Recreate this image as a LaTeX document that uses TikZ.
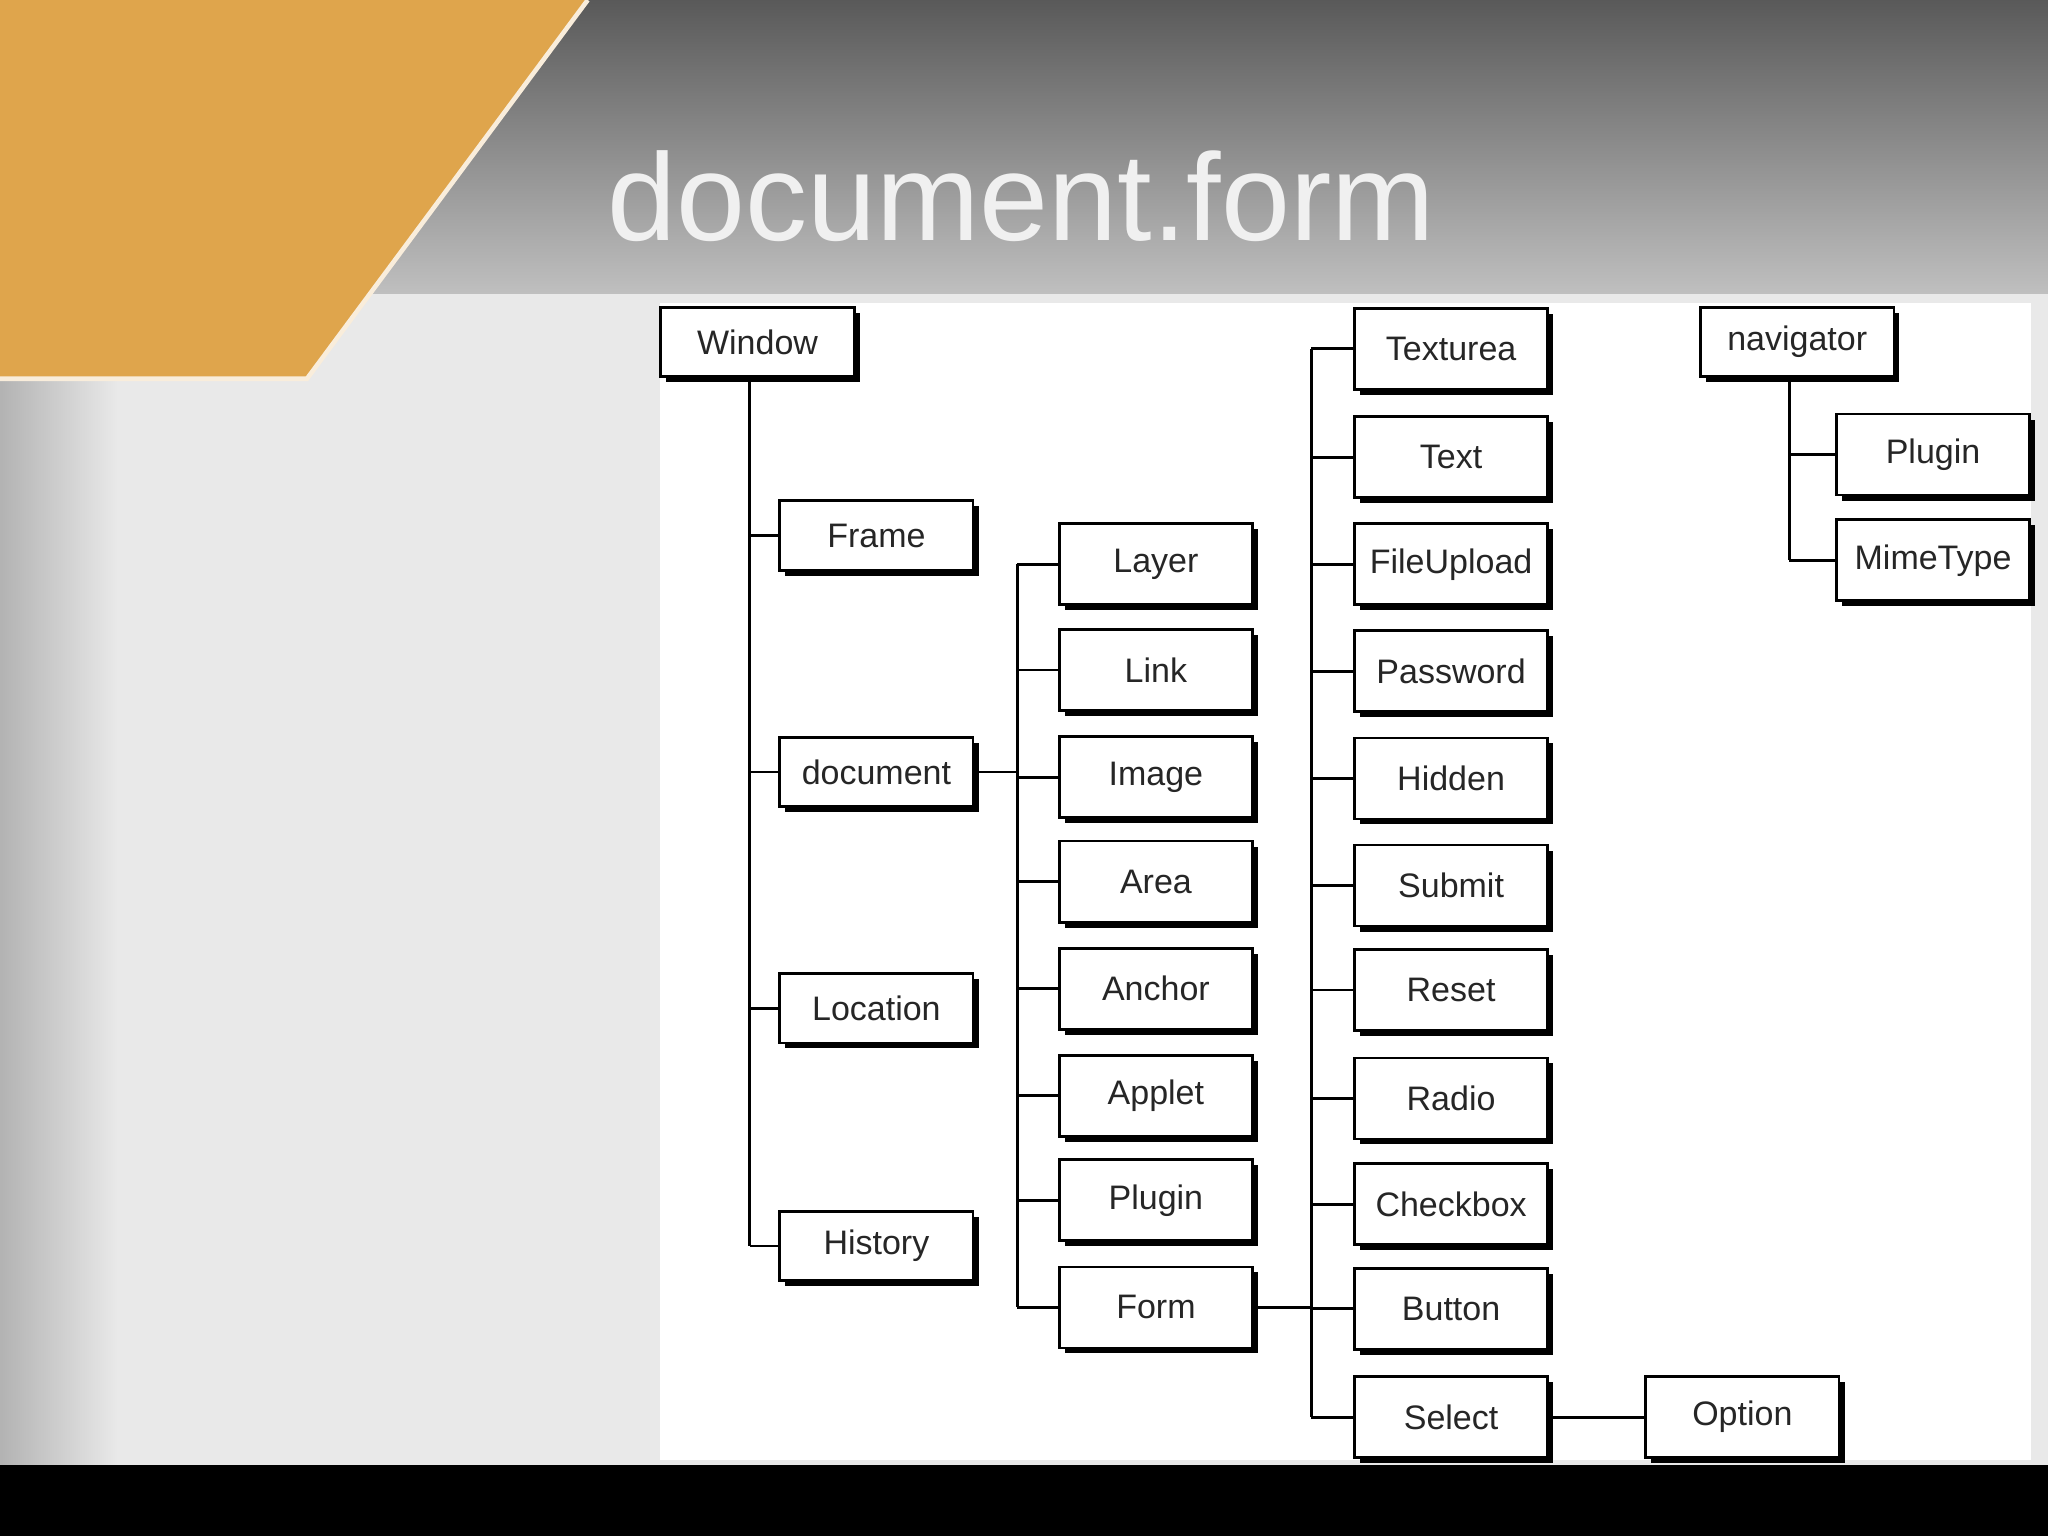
\documentclass[tikz,border=0pt]{standalone}
\usepackage{fontspec}
\setmainfont{Liberation Sans}
\usetikzlibrary{shadows,calc}
\definecolor{orng}{HTML}{DFA54C}
\definecolor{panel}{HTML}{E9E9E9}
\begin{document}
\begin{tikzpicture}[x=0.01cm,y=-0.01cm,
  box/.style={draw=black,fill=white,line width=0.6pt,minimum width=1.48cm,minimum height=0.62cm,inner sep=0pt,
    font=\fontsize{7.4}{9}\selectfont,text=black!85,drop shadow={shadow xshift=1.2pt,shadow yshift=-1.2pt,fill=black,opacity=1}},
  sbox/.style={box,minimum height=0.53cm},
  conn/.style={draw=black,line width=0.6pt}]
\useasboundingbox (0,0) rectangle (1568,1176);
% background
\shade[top color=gray!70!black,bottom color=gray!50] (0,0) rectangle (1568,225);
\fill[panel] (0,225) rectangle (1568,1122);
\shade[left color=gray!60,right color=panel] (0,225) rectangle (90,1122);
\fill[white] (505,232) rectangle (1555,1118);
\fill[black] (0,1122) rectangle (1568,1176);
\fill[orng] (0,0) -- (450,0) -- (235,290) -- (0,290) -- cycle;
\draw[white!80!orng,line width=1pt] (450,0) -- (235,290) -- (0,290);
\node[text=gray!12,font=\fontsize{27}{31}\selectfont] (title) at (782,150) {document.form};
% nodes
\node[sbox] (window) at (580,262) {Window};
\node[sbox] (frame) at (671,410) {Frame};
\node[sbox] (document) at (671,591) {document};
\node[sbox] (location) at (671,772) {Location};
\node[sbox] (history) at (671,954) {History};
\node[box] (layer) at (885,432) {Layer};
\node[box] (link) at (885,513) {Link};
\node[box] (image) at (885,595) {Image};
\node[box] (area) at (885,675) {Area};
\node[box] (anchor) at (885,757) {Anchor};
\node[box] (applet) at (885,839) {Applet};
\node[box] (plugin) at (885,919) {Plugin};
\node[box] (form) at (885,1001) {Form};
\node[box] (texturea) at (1111,267) {Texturea};
\node[box] (text) at (1111,350) {Text};
\node[box] (fileupload) at (1111,432) {FileUpload};
\node[box] (password) at (1111,514) {Password};
\node[box] (hidden) at (1111,596) {Hidden};
\node[box] (submit) at (1111,678) {Submit};
\node[box] (reset) at (1111,758) {Reset};
\node[box] (radio) at (1111,841) {Radio};
\node[box] (checkbox) at (1111,922) {Checkbox};
\node[box] (button) at (1111,1002) {Button};
\node[box] (select) at (1111,1085) {Select};
\node[box] (option) at (1334,1085) {Option};
\node[sbox] (nav) at (1376,262) {navigator};
\node[box] (nplugin) at (1480,348) {Plugin};
\node[box] (mime) at (1480,429) {MimeType};
% trunks
\coordinate (t1) at (574,0);
\coordinate (t2) at (779,0);
\coordinate (t3) at (1004,0);
\coordinate (t4) at (1370,0);
\draw[conn] (t1 |- window.south) -- (t1 |- history);
\foreach \n in {frame,document,location,history} \draw[conn] (t1 |- \n) -- (\n.west);
\draw[conn] (document.east) -- (t2 |- document);
\draw[conn] (t2 |- layer) -- (t2 |- form);
\foreach \n in {layer,link,image,area,anchor,applet,plugin,form} \draw[conn] (t2 |- \n) -- (\n.west);
\draw[conn] (form.east) -- (t3 |- form);
\draw[conn] (t3 |- texturea) -- (t3 |- select);
\foreach \n in {texturea,text,fileupload,password,hidden,submit,reset,radio,checkbox,button,select} \draw[conn] (t3 |- \n) -- (\n.west);
\draw[conn] (select.east) -- (option.west);
\draw[conn] (t4 |- nav.south) -- (t4 |- mime);
\foreach \n in {nplugin,mime} \draw[conn] (t4 |- \n) -- (\n.west);
\end{tikzpicture}
\end{document}
